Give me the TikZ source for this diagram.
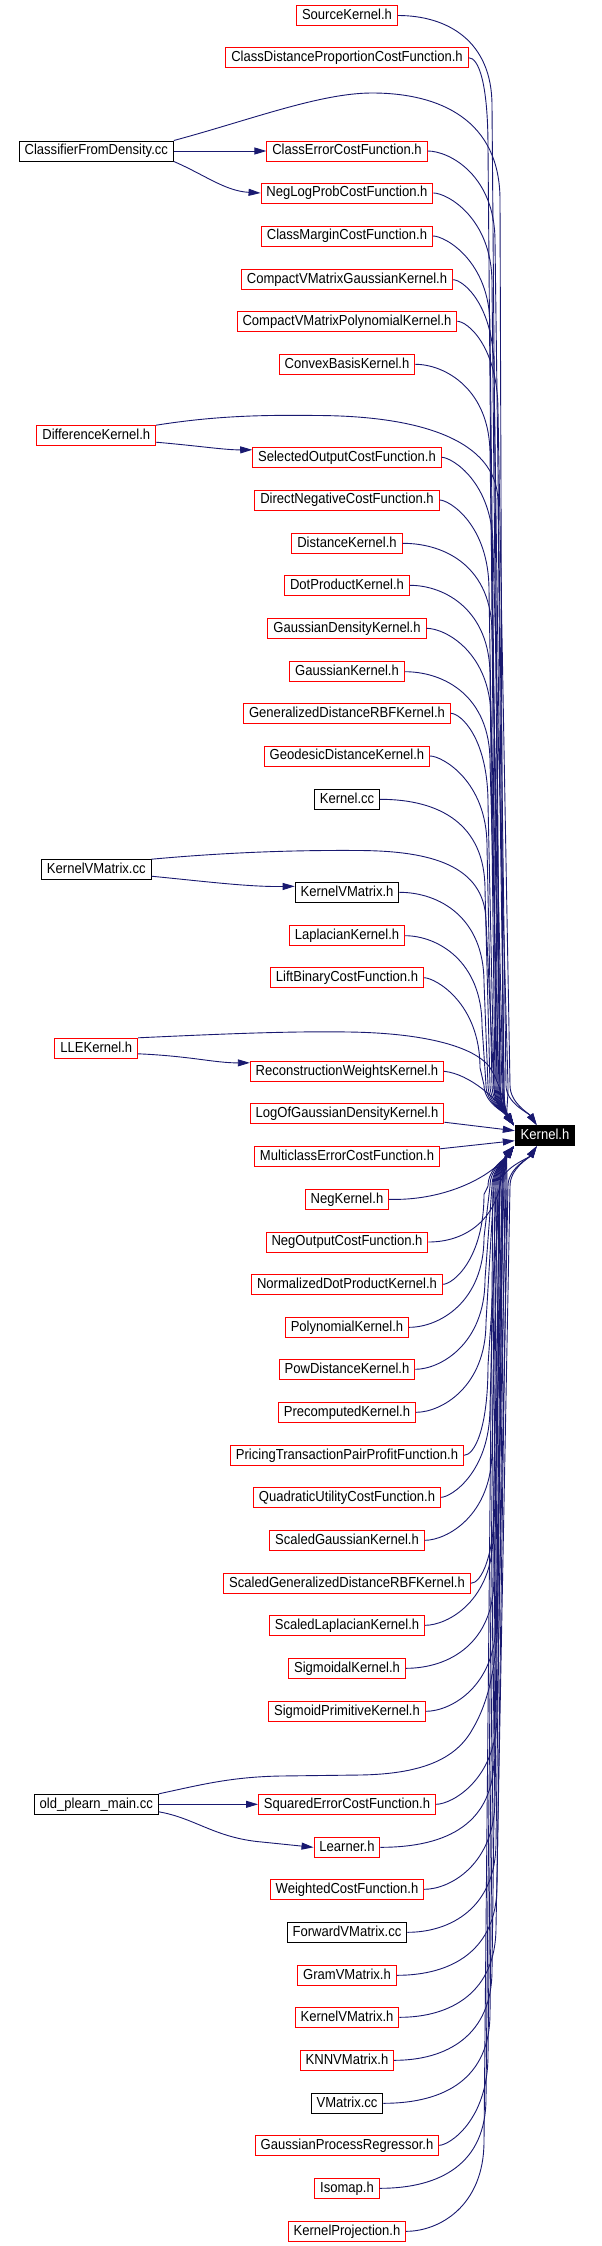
\documentclass[tikz,border=0pt]{standalone}
\usepackage{fontspec}
\setmainfont{Liberation Sans}[FakeStretch=0.9]
\usetikzlibrary{arrows.meta,calc}
\definecolor{edgec}{RGB}{25,25,112}
\definecolor{nred}{RGB}{255,0,0}
\tikzset{
 box/.style={draw=nred, line width=1pt, fill=white, minimum height=20pt, inner xsep=5.4pt, inner ysep=0pt, text height=10.4pt, text depth=2.8pt, font=\fontsize{14.5pt}{16pt}\selectfont},
 bbox/.style={box, draw=black},
 kbox/.style={box, draw=black, fill=black, text=white},
 edge/.style={draw=edgec, line width=0.9pt, -{Triangle[length=12pt,width=7pt]}},
}
\newcommand\eup[4]{%
 \draw[edge] let \p1=(#1.east), \p2=(#4) in
 (\p1) .. controls ({max(\x1+10pt,#2pt-45pt)},\y1) and (#2pt,\y1-25pt) .. (#2pt,\y1-90pt)
 -- (#3pt,\y2+40pt) .. controls (#3pt,\y2+22pt) and (\x2-8pt,\y2+12pt) .. (\p2);}
\newcommand\edn[4]{%
 \draw[edge] let \p1=(#1.east), \p2=(#4) in
 (\p1) .. controls ({max(\x1+10pt,#2pt-45pt)},\y1) and (#2pt,\y1+25pt) .. (#2pt,\y1+90pt)
 -- (#3pt,\y2-40pt) .. controls (#3pt,\y2-22pt) and (\x2-8pt,\y2-12pt) .. (\p2);}
\begin{document}
\begin{tikzpicture}[x=1pt,y=-1pt]
\fill[white] (0,0) rectangle (602,2246);
\useasboundingbox (0,0) rectangle (602,2246);
% middle column
\node[box] (s1) at (347,15.5) {SourceKernel.h};
\node[box] (s2) at (347,57.7) {ClassDistanceProportionCostFunction.h};
\node[box] (s3) at (347,151) {ClassErrorCostFunction.h};
\node[box] (s4) at (347,193) {NegLogProbCostFunction.h};
\node[box] (s5) at (347,236) {ClassMarginCostFunction.h};
\node[box] (s6) at (347,279.7) {CompactVMatrixGaussianKernel.h};
\node[box] (s7) at (347,321.3) {CompactVMatrixPolynomialKernel.h};
\node[box] (s8) at (347,364.3) {ConvexBasisKernel.h};
\node[box] (s9) at (347,457.3) {SelectedOutputCostFunction.h};
\node[box] (s10) at (347,500) {DirectNegativeCostFunction.h};
\node[box] (s11) at (347,543.3) {DistanceKernel.h};
\node[box] (s12) at (347,585.3) {DotProductKernel.h};
\node[box] (s13) at (347,628.3) {GaussianDensityKernel.h};
\node[box] (s14) at (347,671.7) {GaussianKernel.h};
\node[box] (s15) at (347,713.3) {GeneralizedDistanceRBFKernel.h};
\node[box] (s16) at (347,756) {GeodesicDistanceKernel.h};
\node[bbox] (s17) at (347,799.3) {Kernel.cc};
\node[bbox] (s18) at (347,892.3) {KernelVMatrix.h};
\node[box] (s19) at (347,935.7) {LaplacianKernel.h};
\node[box] (s20) at (347,977.7) {LiftBinaryCostFunction.h};
\node[box] (s21) at (347,1071.3) {ReconstructionWeightsKernel.h};
\node[box] (s22) at (347,1113.7) {LogOfGaussianDensityKernel.h};
\node[box] (s23) at (347,1156.3) {MulticlassErrorCostFunction.h};
\node[box] (s24) at (347,1199.3) {NegKernel.h};
\node[box] (s25) at (347,1242) {NegOutputCostFunction.h};
\node[box] (s26) at (347,1284.3) {NormalizedDotProductKernel.h};
\node[box] (s27) at (347,1327.3) {PolynomialKernel.h};
\node[box] (s28) at (347,1369.3) {PowDistanceKernel.h};
\node[box] (s29) at (347,1412.3) {PrecomputedKernel.h};
\node[box] (s30) at (347,1455.3) {PricingTransactionPairProfitFunction.h};
\node[box] (s31) at (347,1497.3) {QuadraticUtilityCostFunction.h};
\node[box] (s32) at (347,1540.3) {ScaledGaussianKernel.h};
\node[box] (s33) at (347,1583.3) {ScaledGeneralizedDistanceRBFKernel.h};
\node[box] (s34) at (347,1625.3) {ScaledLaplacianKernel.h};
\node[box] (s35) at (347,1668.3) {SigmoidalKernel.h};
\node[box] (s36) at (347,1711.3) {SigmoidPrimitiveKernel.h};
\node[box] (s37) at (347,1804.3) {SquaredErrorCostFunction.h};
\node[box] (s38) at (347,1847.3) {Learner.h};
\node[box] (s39) at (347,1889.3) {WeightedCostFunction.h};
\node[bbox] (s40) at (347,1932.3) {ForwardVMatrix.cc};
\node[box] (s41) at (347,1975.3) {GramVMatrix.h};
\node[box] (s42) at (347,2017.3) {KernelVMatrix.h};
\node[box] (s43) at (347,2060.3) {KNNVMatrix.h};
\node[bbox] (s44) at (347,2103.3) {VMatrix.cc};
\node[box] (s45) at (347,2145.3) {GaussianProcessRegressor.h};
\node[box] (s46) at (347,2188.3) {Isomap.h};
\node[box] (s47) at (347,2231.3) {KernelProjection.h};
% left column
\node[bbox] (l1) at (96.3,151) {ClassifierFromDensity.cc};
\node[box] (l2) at (96.3,435.7) {DifferenceKernel.h};
\node[bbox] (l3) at (96.3,869.7) {KernelVMatrix.cc};
\node[box] (l4) at (96.3,1048.3) {LLEKernel.h};
\node[bbox] (l5) at (96.3,1804.3) {old\_plearn\_main.cc};
% target
\node[kbox] (K) at (545,1135.7) {Kernel.h};
\coordinate (Ka) at ($(K.north west)+(-1,0)$);
\coordinate (Ka2) at ($(K.north west)+(22,0)$);
\coordinate (Kb) at ($(K.south west)+(-1,0)$);
\coordinate (Kb2) at ($(K.south west)+(22,0)$);
% edges from above
\eup{s1}{492}{500}{Ka}
\eup{s2}{488}{496}{Ka}
\eup{s3}{495}{506}{Ka2}
\eup{s4}{492}{500}{Ka}
\eup{s5}{490}{498}{Ka}
\eup{s6}{494}{504}{Ka}
\eup{s7}{498}{510}{Ka2}
\eup{s8}{490}{500}{Ka}
\eup{s9}{493}{508}{Ka}
\eup{s10}{489}{497}{Ka}
\eup{s11}{492}{503}{Ka}
\eup{s12}{490}{495}{Ka}
\eup{s13}{491}{502}{Ka}
\eup{s14}{490}{499}{Ka}
\eup{s15}{488}{494}{Ka}
\eup{s16}{487}{492}{Ka}
\eup{s17}{485}{490}{Ka}
\eup{s18}{484}{488}{Ka}
\eup{s19}{482}{486}{Ka}
\eup{s20}{480}{484}{Ka}
% near edges
\draw[edge] (s21.east) .. controls (470,1074) and (498,1100) .. (Ka);
\draw[edge] ($(s22.south east)+(0,-2)$) -- ($(K.west)+(0,-5)$);
\draw[edge] ($(s23.north east)+(0,3)$) -- ($(K.west)+(0,5)$);
\draw[edge] (s24.east) .. controls (440,1201) and (488,1180) .. (Kb);
\draw[edge] (s25.east) .. controls (470,1242) and (495,1215) .. (500,1185) .. controls (503,1165) and (506,1155) .. (Kb);
% edges from below
\edn{s26}{484}{488}{Kb}
\edn{s27}{484}{490}{Kb}
\edn{s28}{485}{492}{Kb}
\edn{s29}{486}{494}{Kb}
\edn{s30}{488}{500}{Kb2}
\edn{s31}{490}{496}{Kb}
\edn{s32}{492}{498}{Kb}
\edn{s33}{495}{504}{Kb}
\edn{s34}{493}{500}{Kb}
\edn{s35}{494}{502}{Kb}
\edn{s36}{496}{506}{Kb}
\edn{s37}{497}{508}{Kb2}
\edn{s38}{494}{500}{Kb}
\edn{s39}{495}{503}{Kb}
\edn{s40}{496}{505}{Kb}
\edn{s41}{497}{507}{Kb}
\edn{s42}{496}{510}{Kb2}
\edn{s43}{492}{502}{Kb}
\edn{s44}{490}{499}{Kb}
\edn{s45}{488}{497}{Kb}
\edn{s46}{486}{495}{Kb}
\edn{s47}{484}{493}{Kb}
% left arcs to Kernel.h
\draw[edge] (l1.north east) .. controls (250,120) and (320,93) .. (372,93) .. controls (440,93) and (500,120) .. (500,200) -- (503,1088) .. controls (503,1105) and (505,1114) .. (Ka);
\draw[edge] (l2.north east) .. controls (220,415) and (270,415) .. (318,415.5) .. controls (420,416) and (496,440) .. (498,500) -- (504,1088) .. controls (504,1105) and (505,1114) .. (Ka);
\draw[edge] (l3.north east) .. controls (230,852) and (300,850) .. (360,850.5) .. controls (430,851) and (484,865) .. (486,920) -- (494,1090) .. controls (495,1105) and (505,1114) .. (Ka);
\draw[edge] (l4.north east) .. controls (220,1034) and (290,1031) .. (349,1032) .. controls (420,1033) and (470,1045) .. (488,1065) .. controls (500,1080) and (505,1110) .. (Ka);
\draw[edge] (l5.north east) .. controls (200,1785) and (230,1777) .. (280,1776) -- (360,1775) .. controls (420,1774) and (455,1760) .. (472,1730) .. controls (490,1700) and (498,1660) .. (498,1600) -- (503,1185) .. controls (503,1165) and (505,1155) .. (Kb);
% left to middle
\draw[edge] (l1.east) -- (s3.west);
\draw[edge] (l1.south east) .. controls (205,175) and (225,191) .. (s4.west);
\draw[edge] ($(l2.south east)+(0,-4)$) .. controls (200,446) and (225,450) .. ($(s9.north west)+(0,3)$);
\draw[edge] ($(l3.south east)+(0,-4)$) .. controls (210,882) and (250,887) .. ($(s18.north west)+(0,4.5)$);
\draw[edge] ($(l4.south east)+(0,-5)$) .. controls (190,1056) and (215,1063) .. ($(s21.north west)+(0,2)$);
\draw[edge] (l5.east) -- (s37.west);
\draw[edge] ($(l5.south east)+(0,-3)$) .. controls (195,1818) and (215,1838) .. (262,1842) -- (s38.west);
\end{tikzpicture}
\end{document}
